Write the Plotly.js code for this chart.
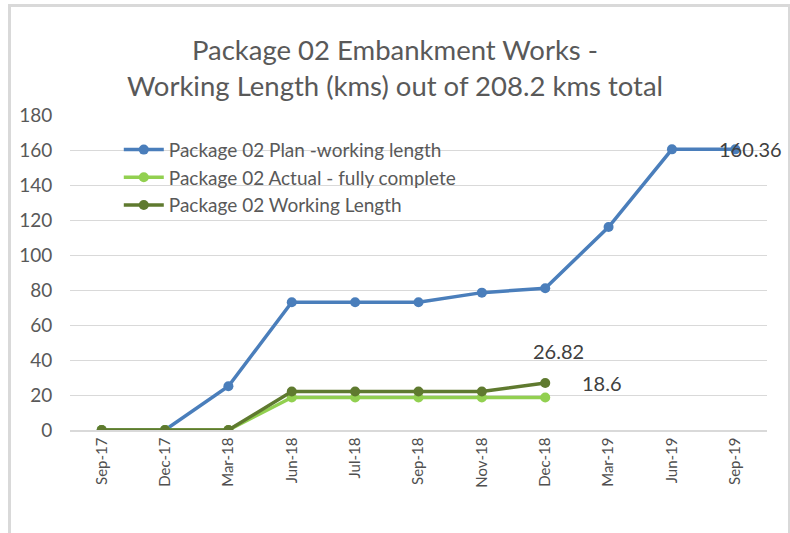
<!DOCTYPE html>
<html>
<head>
<meta charset="utf-8">
<script src="https://cdn.plot.ly/plotly-3.0.1.min.js"></script>
<style>
  html, body { margin: 0; padding: 0; background: #fff; }
  #wrap { position: relative; width: 790px; height: 533px; }
  #frame { position: absolute; left: 8px; top: 4px; width: 777px; height: 540px;
           border: 3px solid #d9d9d9; border-bottom: none; pointer-events: none; }
  #chart { position: absolute; left: 0; top: 0; width: 790px; height: 533px; }
</style>
</head>
<body>
<div id="wrap">
  <div id="chart"></div>
  <div id="frame"></div>
</div>
<script>
const categories = ["Sep-17","Dec-17","Mar-18","Jun-18","Jul-18","Sep-18","Nov-18","Dec-18","Mar-19","Jun-19","Sep-19"];
const planWorking = [0, 0, 25, 73, 73, 73, 78.5, 81, 116, 160.36, 160.36];
const actualComplete = [0, 0, 0, 18.6, 18.6, 18.6, 18.6, 18.6, null, null, null];
const workingLength = [0, 0, 0, 22, 22, 22, 22, 26.82, null, null, null];
const seriesNames = ["Package 02 Plan -working length", "Package 02 Actual - fully complete", "Package 02 Working Length"];
const titleLines = ["Package 02 Embankment Works -", "Working Length (kms) out of 208.2 kms total"];
const yTicks = [0, 20, 40, 60, 80, 100, 120, 140, 160, 180];

const font = "Lato, 'Open Sans', sans-serif";
const xIdx = categories.map((c, i) => i);

function tr(y, name, color) {
  return {
    x: xIdx, y: y, name: name, type: 'scatter', mode: 'lines+markers',
    line: { color: color, width: 3.5 },
    marker: { color: color, size: 10 },
    connectgaps: false
  };
}

const data = [
  tr(planWorking, seriesNames[0], '#4a7ebb'),
  tr(actualComplete, seriesNames[1], '#92d050'),
  tr(workingLength, seriesNames[2], '#5f7a2f')
];

function lastIdx(arr) { let k = -1; arr.forEach((v, i) => { if (v !== null) k = i; }); return k; }
const iPlan = lastIdx(planWorking), iAct = lastIdx(actualComplete), iWork = lastIdx(workingLength);

const annFont = { family: font, size: 20, color: '#404040' };
const annotations = [
  { x: iPlan, y: planWorking[iPlan], text: String(planWorking[iPlan]), showarrow: false, xshift: 15, yshift: 0, font: annFont },
  { x: iWork, y: workingLength[iWork], text: String(workingLength[iWork]), showarrow: false, xshift: 13, yshift: 32, font: annFont },
  { x: iAct, y: actualComplete[iAct], text: String(actualComplete[iAct]), showarrow: false, xshift: 57, yshift: 14, font: annFont }
];

const layout = {
  width: 790, height: 533,
  margin: { l: 70, r: 23, t: 115, b: 103 },
  paper_bgcolor: '#ffffff', plot_bgcolor: '#ffffff',
  font: { family: font, color: '#595959' },
  title: {
    text: titleLines.join('<br>'),
    x: 0.5, xref: 'container', xanchor: 'center',
    y: 1 - 60 / 533, yref: 'container', yanchor: 'middle',
    font: { family: font, size: 27.5, color: '#595959' }
  },
  showlegend: true,
  legend: {
    x: 0.07, y: 0.95, xanchor: 'left', yanchor: 'top',
    bgcolor: 'rgba(255,255,255,0)', borderwidth: 0,
    font: { family: font, size: 19, color: '#595959' },
    tracegroupgap: 0, itemwidth: 40
  },
  xaxis: {
    type: 'linear', range: [-0.5, categories.length - 0.5],
    tickmode: 'array', tickvals: xIdx, ticktext: categories,
    tickangle: -90, tickfont: { family: font, size: 15, color: '#505050' },
    showgrid: false, zeroline: false,
    showline: true, linecolor: '#d9d9d9', linewidth: 1.5,
    ticks: '', fixedrange: true
  },
  yaxis: {
    range: [0, 180], tickmode: 'array', tickvals: yTicks,
    tickfont: { family: font, size: 19, color: '#595959' },
    showgrid: true, gridcolor: '#d9d9d9', gridwidth: 1,
    zeroline: false, showline: false,
    ticks: 'outside', ticklen: 13, tickwidth: 1, tickcolor: '#ffffff',
    fixedrange: true
  },
  annotations: annotations
};

Plotly.newPlot('chart', data, layout, { staticPlot: true, displayModeBar: false });
</script>
</body>
</html>
